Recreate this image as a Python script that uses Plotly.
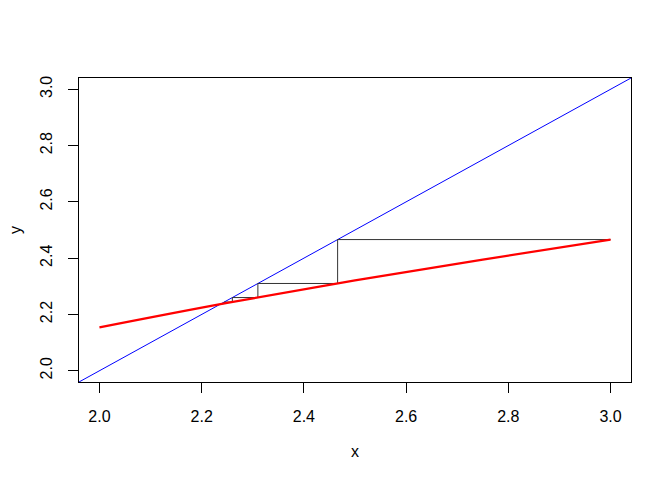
import plotly.graph_objects as go

# Red curve g(x)
curve_x = [2.0, 2.25, 2.5, 2.75, 3.0]
curve_y = [2.154, 2.241, 2.321, 2.395, 2.466]

# Cobweb iterates x0, x1 = g(x0), ...
iterates = [3.0, 2.466, 2.310, 2.260, 2.244, 2.239, 2.237]

# Identity line y = x
diag_x = [1.96, 3.04]
diag_y = [1.96, 3.04]

tick_vals = [2.0, 2.2, 2.4, 2.6, 2.8, 3.0]
tick_text = ["2.0", "2.2", "2.4", "2.6", "2.8", "3.0"]

web_x, web_y = [], []
for i in range(len(iterates) - 1):
    a, b = iterates[i], iterates[i + 1]
    if i == 0:
        web_x.append(a); web_y.append(b)
    web_x.append(b); web_y.append(b)
    if i + 2 < len(iterates):
        web_x.append(b); web_y.append(iterates[i + 2])

FONT = "Liberation Sans, Arial, Helvetica, sans-serif"

fig = go.Figure()
fig.add_trace(go.Scatter(x=diag_x, y=diag_y, mode="lines",
                         line=dict(color="#0000ff", width=1), hoverinfo="skip"))
fig.add_trace(go.Scatter(x=web_x, y=web_y, mode="lines",
                         line=dict(color="#333333", width=1), hoverinfo="skip"))
fig.add_trace(go.Scatter(x=curve_x, y=curve_y, mode="lines",
                         line=dict(color="#ff0000", width=2.2, shape="spline"),
                         hoverinfo="skip"))

axis_common = dict(
    showgrid=False, zeroline=False, showline=True, mirror=True,
    linecolor="black", linewidth=1, ticks="outside", ticklen=9.6,
    tickcolor="black", tickwidth=1, tickvals=tick_vals, ticktext=tick_text,
    tickfont=dict(family=FONT, size=16, color="black"), automargin=False,
)

fig.update_layout(
    width=672, height=480,
    margin=dict(l=71, r=49, t=70, b=106, autoexpand=False),
    paper_bgcolor="white", plot_bgcolor="white",
    showlegend=False,
    xaxis=dict(range=[1.96, 3.04], ticklabelstandoff=10, **axis_common),
    yaxis=dict(range=[1.96, 3.04], tickangle=-90, ticklabelstandoff=10, **axis_common),
    annotations=[
        dict(text="x", xref="paper", yref="paper", x=0.5, y=-0.227,
             showarrow=False, font=dict(family=FONT, size=16, color="black"),
             yanchor="middle"),
        dict(text="y", xref="paper", yref="paper", x=-0.116, y=0.5,
             showarrow=False, textangle=-90,
             font=dict(family=FONT, size=16, color="black"), xanchor="center"),
    ],
)

fig.write_html("out.html")
